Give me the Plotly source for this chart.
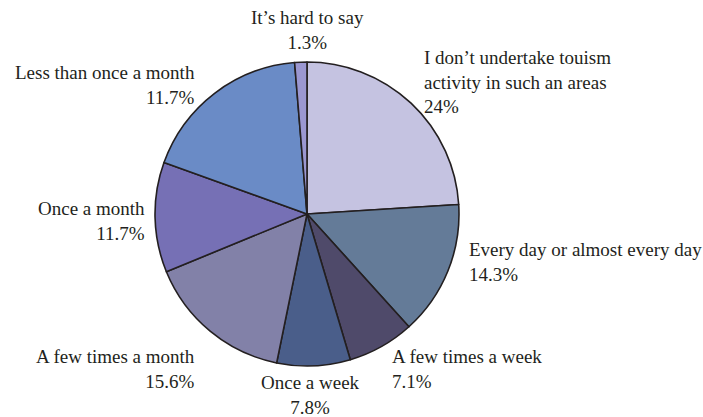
import plotly.graph_objects as go

# ---- data ----
categories = [
    "I don’t undertake touism<br>activity in such an areas",
    "Every day or almost every day",
    "A few times a week",
    "Once a week",
    "A few times a month",
    "Once a month",
    "Less than once a month",
    "It’s hard to say",
]
# percentages printed on the chart
label_pct = ["24%", "14.3%", "7.1%", "7.8%", "15.6%", "11.7%", "11.7%", "1.3%"]
# slice sizes as drawn in the picture (the "less than once a month" wedge is ~18%)
slice_values = [24.0, 14.3, 7.1, 7.8, 15.6, 11.7, 18.2, 1.3]
colors = ["#C5C3E1", "#647B98", "#4F4A6A", "#4A5E8A", "#8281A8", "#7670B5", "#6A8BC6", "#9B97D1"]

W, H = 703, 417
def px(x):
    return x / W
def py(y):
    return 1 - y / H

FONT = "Times New Roman"

fig = go.Figure(go.Pie(
    values=slice_values,
    labels=[c.replace("<br>", " ") for c in categories],
    sort=False,
    direction="clockwise",
    rotation=0,
    textinfo="none",
    hole=0,
    marker=dict(colors=colors, line=dict(color="#231F20", width=1.6)),
    domain=dict(x=[px(155), px(459)], y=[py(366), py(62)]),
    showlegend=False,
))

# label placement (x, y in pixels, anchor)
label_pos = [
    (422, 81.5, "left"),
    (467, 262, "left"),
    (390, 369, "left"),
    (310, 394.5, "center"),
    (197, 369, "right"),
    (147, 221, "right"),
    (197, 85, "right"),
    (307, 29.5, "center"),
]
annotations = []
for cat, pct, (x, y, anc) in zip(categories, label_pct, label_pos):
    annotations.append(dict(
        text=f"{cat}<br>{pct}", x=px(x), y=py(y), xref="paper", yref="paper",
        xanchor=anc, yanchor="middle", align=anc, showarrow=False,
        font=dict(family=FONT, size=19, color="#231F20"),
    ))

fig.update_layout(
    width=W, height=H,
    margin=dict(l=0, r=0, t=0, b=0),
    paper_bgcolor="white", plot_bgcolor="white",
    font=dict(family=FONT),
    annotations=annotations,
)
fig.write_html("out.html")
